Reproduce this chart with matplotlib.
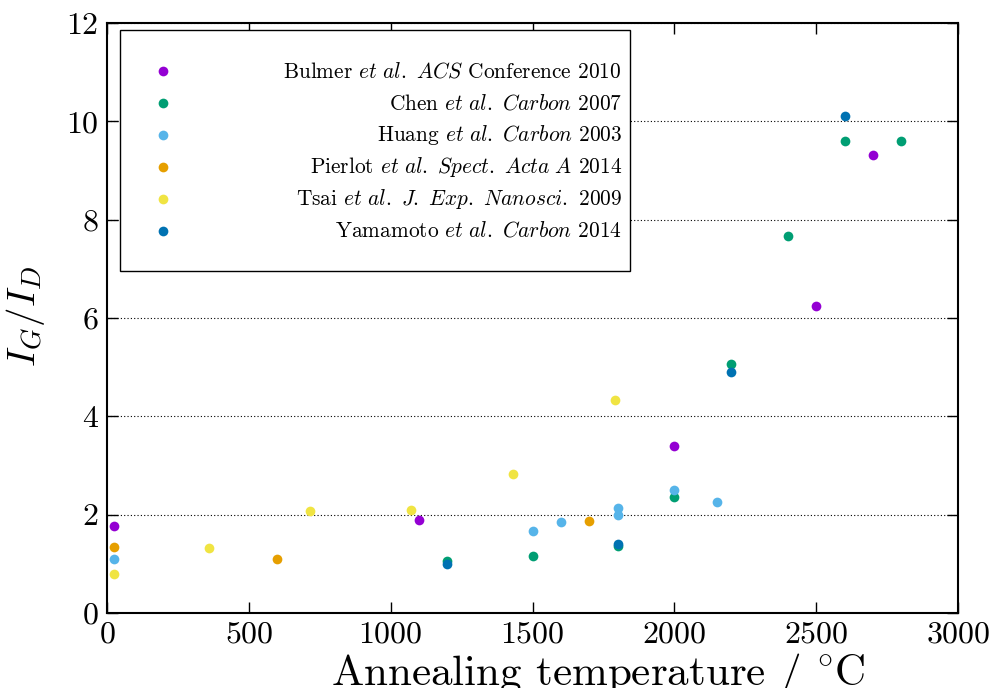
import matplotlib
matplotlib.use("Agg")
import matplotlib.pyplot as plt
from matplotlib.patches import Rectangle

plt.rcParams['font.family'] = ['cmr10', 'DejaVu Serif']
plt.rcParams['mathtext.fontset'] = 'cm'
plt.rcParams['axes.formatter.use_mathtext'] = True

# data (annealing temperature in degC, I_G/I_D)
bulmer_t = [25, 1100, 2000, 2500, 2700]
bulmer_r = [1.77, 1.89, 3.40, 6.25, 9.31]

chen_t = [1200, 1500, 1800, 2000, 2200, 2400, 2600, 2800]
chen_r = [1.06, 1.16, 1.36, 2.36, 5.06, 7.67, 9.61, 9.60]

huang_t = [25, 1500, 1600, 1800, 1800, 2000, 2150]
huang_r = [1.10, 1.67, 1.85, 2.13, 1.99, 2.50, 2.26]

pierlot_t = [25, 600, 1700]
pierlot_r = [1.34, 1.10, 1.87]

tsai_t = [25, 358, 715, 1073, 1432, 1790]
tsai_r = [0.80, 1.32, 2.07, 2.09, 2.83, 4.33]

yama_t = [1200, 1800, 2200, 2600]
yama_r = [1.00, 1.40, 4.90, 10.11]

labels = [r"Bulmer $\mathit{et\ al.\ ACS}$ Conference 2010",
          r"Chen $\mathit{et\ al.\ Carbon}$ 2007",
          r"Huang $\mathit{et\ al.\ Carbon}$ 2003",
          r"Pierlot $\mathit{et\ al.\ Spect.\ Acta\ A}$ 2014",
          r"Tsai $\mathit{et\ al.\ J.\ Exp.\ Nanosci.}$ 2009",
          r"Yamamoto $\mathit{et\ al.\ Carbon}$ 2014"]
colors = ['#9400D3', '#009E73', '#56B4E9', '#E69F00', '#F0E442', '#0072B2']

series = [(bulmer_t, bulmer_r), (chen_t, chen_r), (huang_t, huang_r),
          (pierlot_t, pierlot_r), (tsai_t, tsai_r), (yama_t, yama_r)]

fig = plt.figure(figsize=(9.98, 6.88), dpi=100)
ax = fig.add_axes([107/998, 1 - 613/688, 851/998, 590/688])

for (t, r), c in zip(series, colors):
    ax.plot(t, r, 'o', color=c, markersize=7, markeredgewidth=0, zorder=3)

ax.set_xlim(0, 3000)
ax.set_ylim(0, 12)
ax.set_xticks(range(0, 3001, 500))
ax.set_yticks(range(0, 13, 2))
ax.tick_params(direction='in', length=8, width=1, top=True, right=True,
               labelsize=23, pad=6)
for s in ax.spines.values():
    s.set_linewidth(1.5)
ax.grid(axis='y', linestyle=(0, (1, 2)), color='black', linewidth=0.8, zorder=1)
ax.set_axisbelow(True)

ax.set_xlabel(r"Annealing temperature / $^{\circ}$C", fontsize=31)
ax.xaxis.set_label_coords(0.577, -0.064)
ax.set_ylabel(r"$I_G/I_D$", fontsize=28)
ax.yaxis.set_label_coords(-0.07, 0.503)

# key box, drawn like gnuplot's (markers left, labels right-aligned)
ax.add_patch(Rectangle((0.0153, 0.5797), 0.5993, 0.4083, transform=ax.transAxes,
                       facecolor='white', edgecolor='black', linewidth=1.0, zorder=4))
row_y = 0.9186
for lab, c in zip(labels, colors):
    ax.plot([0.0658], [row_y], 'o', color=c, markersize=7, markeredgewidth=0,
            transform=ax.transAxes, zorder=5, clip_on=False)
    ax.text(0.605, row_y, lab, transform=ax.transAxes, ha='right', va='center',
            fontsize=15.4, zorder=5)
    row_y -= 0.0542

fig.savefig("out.png", dpi=100)
